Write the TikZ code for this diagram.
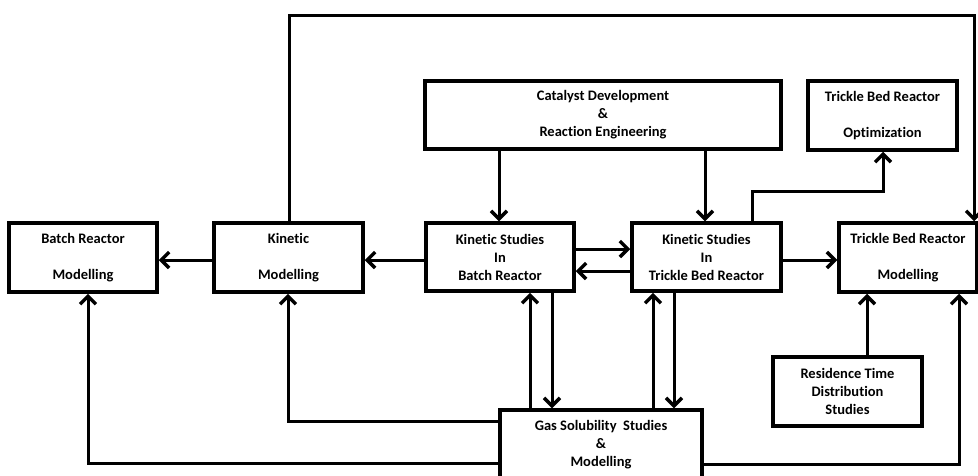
\documentclass[tikz,border=0pt]{standalone}
\usepackage{fontspec}
\setmainfont{Carlito}[Ligatures=NoCommon]
\usetikzlibrary{arrows.meta}
\begin{document}
\begin{tikzpicture}[x=1pt,y=-1pt,
  box/.style={draw, line width=3.5pt, rectangle, inner sep=0pt, align=center,
    font=\bfseries\fontsize{14.5}{18}\selectfont},
  conn/.style={line width=3pt, -{Straight Barb[length=8pt,width=16pt,line width=3.5pt]}}
]
\useasboundingbox (0,0) rectangle (978,475);
\clip (0,0) rectangle (978,475);

\node[box, minimum width=148, minimum height=69] (batch) at (83,257.5) {Batch Reactor\\[18pt]Modelling};
\node[box, minimum width=149, minimum height=69] (kinmod) at (288.5,257.5) {Kinetic\\[18pt]Modelling};
\node[box, minimum width=148, minimum height=68] (ksb) at (500,257) {Kinetic Studies\\In\\Batch Reactor};
\node[box, minimum width=149, minimum height=68] (kst) at (706.5,257) {Kinetic Studies\\In\\Trickle Bed Reactor};
\node[box, minimum width=356, minimum height=68] (cat) at (603,115) {Catalyst Development\\\&\\Reaction Engineering};
\node[box, minimum width=149, minimum height=69] (opt) at (882.5,115.5) {Trickle Bed Reactor\\[18pt]Optimization};
\node[box, minimum width=138, minimum height=69] (tbrm) at (908,257.5) {Trickle Bed Reactor\\[18pt]Modelling};
\node[box, minimum width=149, minimum height=69] (res) at (847.5,391.5) {Residence Time\\Distribution\\Studies};
\node[box, minimum width=202, minimum height=69] (gas) at (601,444.5) {Gas Solubility~ Studies\\\&\\Modelling};

\coordinate (tl) at (289,15);
\coordinate (tr) at (974,15);
\coordinate (ko) at (883,191);

\draw[conn] (kinmod.west |- 0,260) -- (batch.east |- 0,260);
\draw[conn] (ksb.west |- 0,260) -- (kinmod.east |- 0,260);
\draw[conn] (kinmod.north -| tl) -- (tl) -- (tr) -- (tbrm.north -| tr);
\draw[conn] (cat.south -| 499,0) -- (ksb.north -| 499,0);
\draw[conn] (cat.south -| 705,0) -- (kst.north -| 705,0);
\draw[conn] (ksb.east |- 0,249) -- (kst.west |- 0,249);
\draw[conn] (kst.west |- 0,271) -- (ksb.east |- 0,271);
\draw[conn] (kst.east |- 0,260) -- (tbrm.west |- 0,260);
\draw[conn] (kst.north -| 752,0) |- (ko) -- (opt.south -| ko);
\draw[conn] (res.north -| 867,0) -- (tbrm.south -| 867,0);
\draw[conn] (gas.north -| 530,0) -- (ksb.south -| 530,0);
\draw[conn] (ksb.south -| 552,0) -- (gas.north -| 552,0);
\draw[conn] (gas.north -| 653,0) -- (kst.south -| 653,0);
\draw[conn] (kst.south -| 674,0) -- (gas.north -| 674,0);
\draw[conn] (gas.west |- 0,421) -| (kinmod.south -| 288,0);
\draw[conn] (gas.west |- 0,463) -| (batch.south -| 88,0);
\draw[conn] (gas.east |- 0,464) -| (tbrm.south -| 959,0);
\end{tikzpicture}
\end{document}
